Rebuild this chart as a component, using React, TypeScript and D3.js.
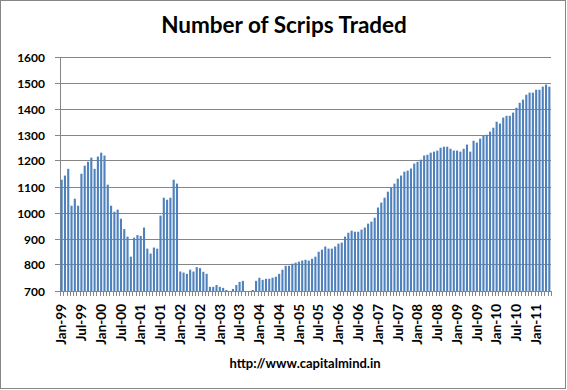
import React, { useRef, useEffect } from "react";
import { select, scaleBand, scaleLinear, timeMonth, timeFormat, range } from "d3";

// monthly values, Jan-99 .. May-11
const y1999 = [1128, 1144, 1170, 1028, 1055, 1028, 1151, 1182, 1197, 1213, 1170, 1217];
const y2000 = [1232, 1221, 1109, 1028, 1005, 1013, 978, 938, 909, 832, 905, 915];
const y2001 = [912, 944, 863, 844, 867, 863, 990, 1059, 1051, 1059, 1128, 1113];
const y2002 = [775, 771, 766, 782, 775, 792, 788, 774, 766, 716, 716, 723];
const y2003 = [716, 712, 704, 697, 708, 723, 735, 739, 695, 695, 704, 739];
const y2004 = [751, 743, 747, 747, 751, 755, 766, 782, 797, 797, 805, 809];
const y2005 = [813, 817, 820, 817, 824, 832, 851, 859, 871, 863, 863, 871];
const y2006 = [882, 886, 909, 924, 932, 928, 928, 936, 944, 959, 967, 982];
const y2007 = [1021, 1040, 1059, 1082, 1097, 1113, 1132, 1144, 1159, 1163, 1171, 1190];
const y2008 = [1197, 1205, 1221, 1224, 1232, 1236, 1240, 1251, 1255, 1255, 1247, 1240];
const y2009 = [1240, 1236, 1247, 1263, 1236, 1278, 1271, 1286, 1297, 1301, 1313, 1328];
const y2010 = [1351, 1344, 1367, 1374, 1374, 1386, 1405, 1424, 1436, 1455, 1463, 1463];
const y2011 = [1474, 1474, 1486, 1494, 1486];

const values = [
  ...y1999, ...y2000, ...y2001, ...y2002, ...y2003, ...y2004, ...y2005,
  ...y2006, ...y2007, ...y2008, ...y2009, ...y2010, ...y2011,
];

const fmt = timeFormat("%b-%y");
const months = timeMonth.range(new Date(1999, 0, 1), new Date(2011, 5, 1)).map(fmt);

const tickLabels = [
  "Jan-99", "Jul-99", "Jan-00", "Jul-00", "Jan-01", "Jul-01", "Jan-02", "Jul-02",
  "Jan-03", "Jul-03", "Jan-04", "Jul-04", "Jan-05", "Jul-05", "Jan-06", "Jul-06",
  "Jan-07", "Jul-07", "Jan-08", "Jul-08", "Jan-09", "Jul-09", "Jan-10", "Jul-10", "Jan-11",
];
const yTicks = [700, 800, 900, 1000, 1100, 1200, 1300, 1400, 1500, 1600];

const W = 567;
const H = 390;
const margin = { top: 57, right: 16, bottom: 99, left: 60 };
const GRID = "#868686";
const FONT = "Lato, 'Open Sans', sans-serif";

export default function App() {
  const svgRef = useRef<SVGSVGElement>(null);

  useEffect(() => {
    const svg = select(svgRef.current!);
    svg.selectAll("*").remove();

    const x = scaleBand<string>()
      .domain(months)
      .range([margin.left, W - margin.right])
      .paddingInner(0.36)
      .paddingOuter(0.18);
    const y = scaleLinear().domain([700, 1600]).range([H - margin.bottom, margin.top]);
    const step = x.step();
    const x0 = margin.left;
    const x1 = W - margin.right;
    const yBase = y(700);

    // outer border
    svg.append("rect")
      .attr("x", 0.5).attr("y", 0.5)
      .attr("width", W - 2).attr("height", H - 2)
      .attr("fill", "#fff").attr("stroke", GRID);

    // title
    svg.append("text")
      .attr("x", 284).attr("y", 33)
      .attr("text-anchor", "middle")
      .style("font-family", FONT).style("font-weight", "bold").style("font-size", "22.5px")
      .text("Number of Scrips Traded");

    // gridlines + y labels
    const gy = svg.append("g");
    yTicks.forEach((t) => {
      const yy = Math.floor(y(t)) + 0.5;
      gy.append("line")
        .attr("x1", x0 - 5).attr("x2", x1)
        .attr("y1", yy).attr("y2", yy)
        .attr("stroke", GRID);
      gy.append("text")
        .attr("x", 45).attr("y", yy).attr("dy", "0.35em")
        .attr("text-anchor", "end")
        .style("font-family", FONT).style("font-weight", "bold").style("font-size", "12px")
        .text(t);
    });
    gy.append("line")
      .attr("x1", x0 + 0.5).attr("x2", x0 + 0.5)
      .attr("y1", margin.top).attr("y2", yBase + 0.5)
      .attr("stroke", GRID);

    // bars
    svg.append("g")
      .selectAll("rect")
      .data(values)
      .join("rect")
      .attr("x", (_, i) => x(months[i])!)
      .attr("width", x.bandwidth())
      .attr("y", (d) => y(Math.max(d, 700)))
      .attr("height", (d) => yBase - y(Math.max(d, 700)))
      .attr("fill", "#4F81BD");

    // x axis ticks at category boundaries
    const gx = svg.append("g");
    range(months.length + 1).forEach((i) => {
      const xx = Math.round(x0 + i * step) + 0.5;
      gx.append("line")
        .attr("x1", xx).attr("x2", xx)
        .attr("y1", yBase).attr("y2", yBase + 5)
        .attr("stroke", GRID);
    });

    // x labels
    tickLabels.forEach((lab) => {
      const cx = x(lab)! + x.bandwidth() / 2;
      gx.append("text")
        .attr("transform", `translate(${cx},${yBase + 13}) rotate(-90)`)
        .attr("dy", "0.35em")
        .attr("text-anchor", "end")
        .style("font-family", FONT).style("font-weight", "bold").style("font-size", "13.5px")
        .text(lab);
    });

    // footer
    svg.append("text")
      .attr("x", 305).attr("y", 368)
      .attr("text-anchor", "middle")
      .style("font-family", FONT).style("font-weight", "bold").style("font-size", "13px")
      .text("http://www.capitalmind.in");
  }, []);

  return (
    <svg
      ref={svgRef}
      width={W}
      height={H}
      style={{ position: "absolute", left: 0, top: 0, background: "#fff" }}
    />
  );
}
